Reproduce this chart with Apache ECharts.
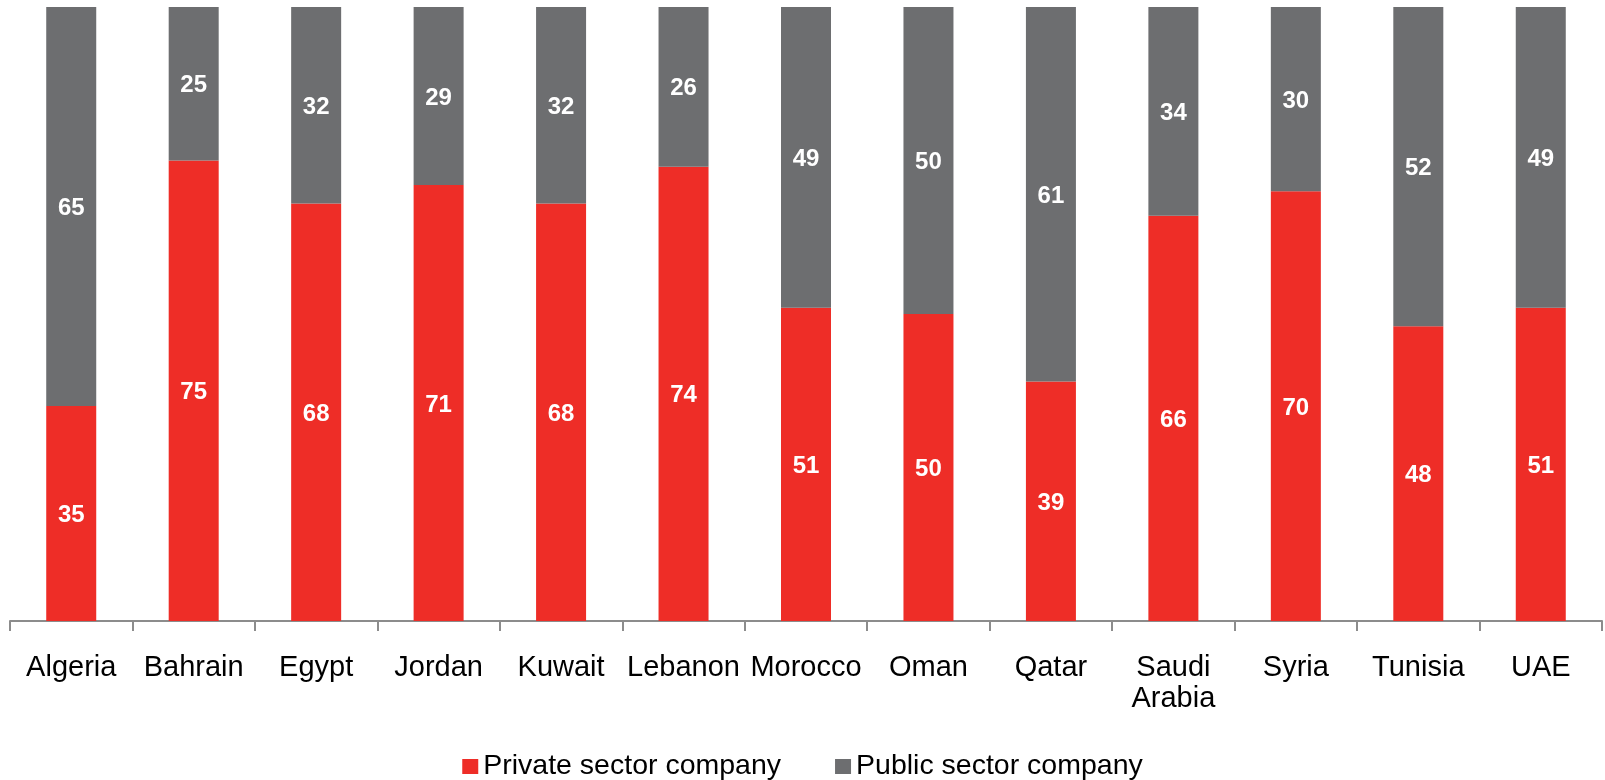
<!DOCTYPE html>
<html>
<head>
<meta charset="utf-8">
<script src="https://cdn.jsdelivr.net/npm/echarts@6/dist/echarts.min.js"></script>
<style>
  html, body { margin: 0; padding: 0; background: #fff; }
  #chart_container { width: 1605px; height: 780px; }
</style>
</head>
<body>
<div id="chart_container"></div>
<script>
var countries = ['Algeria', 'Bahrain', 'Egypt', 'Jordan', 'Kuwait', 'Lebanon', 'Morocco',
    'Oman', 'Qatar', 'Saudi\nArabia', 'Syria', 'Tunisia', 'UAE'];
var privateSector = [35, 75, 68, 71, 68, 74, 51, 50, 39, 66, 70, 48, 51];
var publicSector = [65, 25, 32, 29, 32, 26, 49, 50, 61, 34, 30, 52, 49];

var dom = document.getElementById("chart_container");
var myChart = echarts.init(dom);
var font = 'Liberation Sans, Arial, sans-serif';

var barLabel = {
    show: true,
    position: 'inside',
    color: '#fff',
    fontFamily: font,
    fontWeight: 'bold',
    fontSize: 24,
    offset: [0, 2]
};

var option = {
    animation: false,
    color: ['#EE2D27', '#6D6E70'],
    legend: {
        data: ['Private sector company', 'Public sector company'],
        top: 747,
        left: 'center',
        itemWidth: 16,
        itemHeight: 15,
        itemGap: 54,
        icon: 'rect',
        textStyle: {
            fontFamily: font,
            fontSize: 28.5,
            color: '#000',
            padding: [0, 0, 0, 0]
        }
    },
    grid: {
        left: 10,
        right: 3,
        top: 7,
        bottom: 159
    },
    xAxis: {
        type: 'category',
        data: countries,
        axisLine: { lineStyle: { color: '#8C8C8C', width: 2 } },
        axisTick: { show: true, length: 10, lineStyle: { color: '#8C8C8C', width: 2 } },
        axisLabel: {
            margin: 31,
            fontFamily: font,
            fontSize: 29,
            lineHeight: 31,
            color: '#000',
            interval: 0
        }
    },
    yAxis: {
        type: 'value',
        min: 0,
        max: 100,
        show: false,
        splitLine: { show: false }
    },
    series: [{
        name: 'Private sector company',
        type: 'bar',
        stack: 'total',
        barWidth: 50,
        data: privateSector,
        label: barLabel
    }, {
        name: 'Public sector company',
        type: 'bar',
        stack: 'total',
        barWidth: 50,
        data: publicSector,
        label: barLabel
    }]
};

myChart.setOption(option, true);
</script>
</body>
</html>
